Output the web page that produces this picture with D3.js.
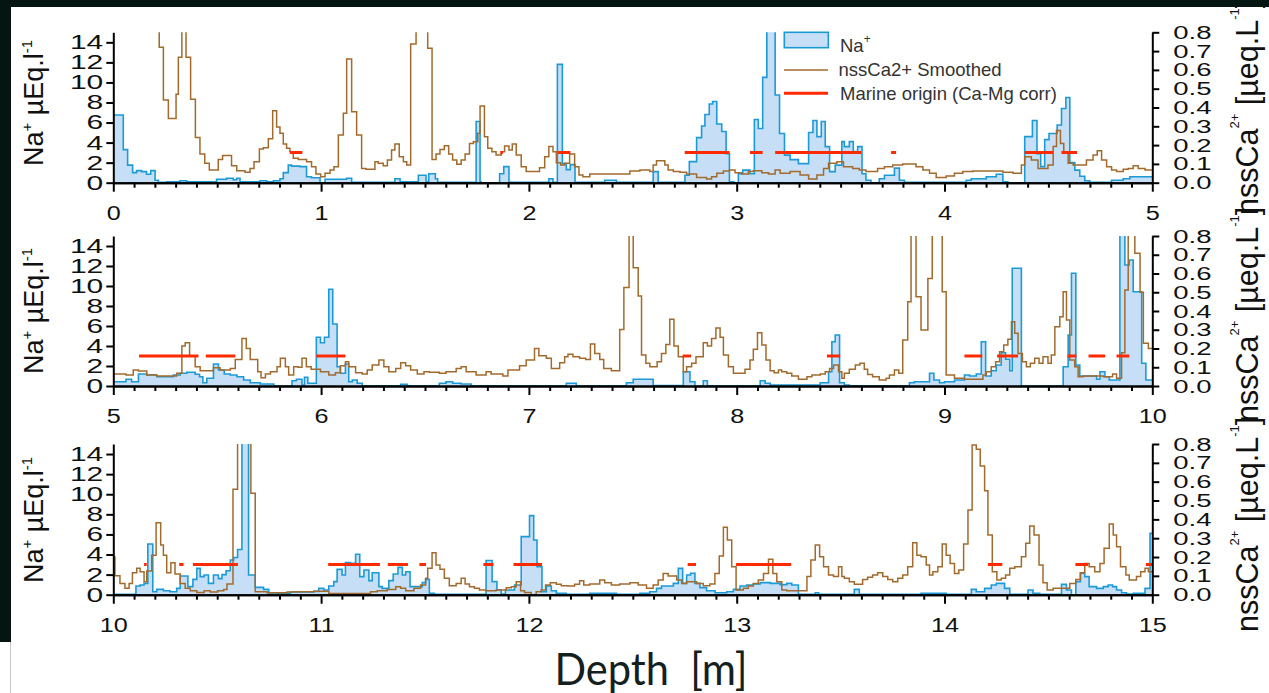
<!DOCTYPE html>
<html>
<head>
<meta charset="utf-8">
<title>Na+ and nssCa2+ along depth</title>
<script src="https://d3js.org/d3.v7.min.js"></script>
<style>
body { margin: 0; background: #fff; }
svg { display: block; }
</style>
</head>
<body>
<script>
// depth ranges of the three strips (m)
const panelStart = [0, 5, 10];
const naTicks = [0, 2, 4, 6, 8, 10, 12, 14];
const caTicks = [0, 0.1, 0.2, 0.3, 0.4, 0.5, 0.6, 0.7, 0.8];
const marineLevel = 0.16;

// Na+ (µEq/l), step starts [depth, value]; 16 = off scale
const naPanel1 = [[0,6.75],[0.048,3.3],[0.069,1.75],[0.093,1.0],[0.112,1.2],[0.136,1.1],[0.160,0.85],[0.180,1.2],[0.201,0.25],[0.217,0.05],[0.257,0.1],[0.321,0.2],[0.353,0.1],[0.497,0.35],[0.545,0.45],[0.577,0.3],[0.594,0.45],[0.610,0.1],[0.706,0.2],[0.738,0.1],[0.770,0.2],[0.802,0.4],[0.818,1.0],[0.842,1.75],[0.858,1.65],[0.898,1.6],[0.930,0.6],[0.954,0.5],[0.995,0.0],[1.019,0.35],[1.123,0.45],[1.147,0.05],[1.355,0.4],[1.380,0.1],[1.468,0.75],[1.505,0.1],[1.518,0.9],[1.550,0.4],[1.561,0.05],[1.746,6.1],[1.765,0.1],[1.770,0.0],[1.859,0.9],[1.879,1.6],[1.904,0.05],[2.096,0.4],[2.116,0.05],[2.137,11.8],[2.161,1.9],[2.180,1.3],[2.199,1.8],[2.222,0.05],[2.365,0.25],[2.421,0.05],[2.598,1.1],[2.622,0.05],[2.751,0.75],[2.772,2.1],[2.807,4.5],[2.831,5.65],[2.847,6.8],[2.868,7.85],[2.884,8.1],[2.904,5.85],[2.928,5.1],[2.949,2.9],[2.965,0.1],[2.987,0.0],[3.008,0.9],[3.029,1.25],[3.064,0.9],[3.085,6.3],[3.104,5.4],[3.125,10.5],[3.145,16],[3.185,8.75],[3.206,4.9],[3.230,2.75],[3.257,2.3],[3.297,1.9],[3.346,5.0],[3.367,6.2],[3.386,4.6],[3.407,6.1],[3.426,3.6],[3.447,1.1],[3.474,1.75],[3.506,4.1],[3.518,3.6],[3.542,4.1],[3.561,3.1],[3.582,3.6],[3.603,0.9],[3.622,0.25],[3.646,0.0],[3.686,0.4],[3.711,0.75],[3.759,1.45],[3.783,0.25],[3.807,0.05],[4.105,0.25],[4.129,0.4],[4.201,0.6],[4.249,0.85],[4.281,0.1],[4.305,0.0],[4.386,4.6],[4.423,6.2],[4.445,2.9],[4.463,1.6],[4.482,4.3],[4.503,4.9],[4.542,5.75],[4.563,7.4],[4.584,8.5],[4.603,2.0],[4.627,1.25],[4.651,0.65],[4.675,0.2],[4.699,0.05],[4.804,0.25],[4.860,0.4],[4.892,0.6]];
const naPanel2 = [[5.000,0.43],[5.061,0.67],[5.088,0.43],[5.121,1.2],[5.161,1.1],[5.209,0.93],[5.289,1.1],[5.322,1.27],[5.354,1.37],[5.394,1.17],[5.415,0.93],[5.431,0.33],[5.450,0.77],[5.482,2.2],[5.506,1.6],[5.534,1.2],[5.563,1.1],[5.595,0.93],[5.627,0.6],[5.659,0.33],[5.707,0.2],[5.772,0.0],[5.860,0.53],[5.881,0.67],[5.908,0.1],[5.920,0.87],[5.936,0.27],[5.977,4.87],[5.997,4.33],[6.016,4.87],[6.037,9.67],[6.056,6.2],[6.077,1.93],[6.093,1.27],[6.117,2.2],[6.133,0.43],[6.150,0.6],[6.174,0.27],[6.198,0.03],[6.383,0.17],[6.415,0.03],[6.569,0.27],[6.601,0.43],[6.633,0.27],[6.674,0.2],[6.722,0.03],[7.180,0.27],[7.228,0.03],[7.469,0.33],[7.502,0.67],[7.598,0.05],[7.743,1.43],[7.775,0.43],[7.799,0.0],[7.839,0.53],[7.859,0.03],[8.113,0.53],[8.137,0.27],[8.161,0.1],[8.402,0.33],[8.442,1.43],[8.458,4.43],[8.474,5.1],[8.495,0.33],[8.518,0.1],[8.542,0.03],[8.831,0.33],[8.855,0.43],[8.928,1.27],[8.949,0.6],[8.976,0.33],[9.000,0.43],[9.048,0.6],[9.096,1.1],[9.121,1.0],[9.153,1.2],[9.177,4.43],[9.198,1.0],[9.225,1.53],[9.249,2.1],[9.273,3.33],[9.294,2.67],[9.314,1.53],[9.326,11.77],[9.370,0.0],[9.571,1.93],[9.595,5.1],[9.611,11.27],[9.632,2.1],[9.651,1.0],[9.732,0.67],[9.748,1.43],[9.772,0.93],[9.793,0.6],[9.844,16],[9.868,12.1],[9.889,12.6],[9.908,9.43],[9.949,2.27],[9.969,0.6]];
const naPanel3 = [[10.000,0.05],[10.109,0.86],[10.129,0.96],[10.148,1.13],[10.166,5.05],[10.190,0.3],[10.209,0.53],[10.241,0.4],[10.273,0.3],[10.305,0.63],[10.322,1.86],[10.359,0.8],[10.383,1.53],[10.402,2.62],[10.418,1.8],[10.437,1.96],[10.458,1.13],[10.482,1.96],[10.506,1.6],[10.523,2.0],[10.543,2.39],[10.563,3.46],[10.579,3.7],[10.598,4.5],[10.619,16],[10.651,1.96],[10.683,0.73],[10.723,0.53],[10.748,0.07],[10.788,0.13],[10.852,0.27],[10.965,0.33],[10.989,0.63],[11.013,0.47],[11.037,0.86],[11.061,1.3],[11.077,2.52],[11.101,1.96],[11.117,3.19],[11.141,3.12],[11.166,4.02],[11.186,1.8],[11.206,2.46],[11.230,1.4],[11.246,2.19],[11.278,0.8],[11.294,0.63],[11.326,1.4],[11.347,2.06],[11.370,2.72],[11.391,1.96],[11.407,2.29],[11.428,0.8],[11.487,1.2],[11.503,1.53],[11.521,0.13],[11.545,0.03],[11.794,3.4],[11.823,1.3],[11.846,0.47],[11.867,0.07],[11.887,0.47],[11.931,0.96],[11.963,5.78],[12.003,7.87],[12.023,5.45],[12.039,2.79],[12.063,0.3],[12.084,0.86],[12.108,0.4],[12.132,0.13],[12.180,0.03],[12.293,0.13],[12.421,0.05],[12.534,0.13],[12.582,0.3],[12.614,0.63],[12.638,0.86],[12.695,1.13],[12.719,2.62],[12.740,1.13],[12.759,1.96],[12.778,2.13],[12.799,1.13],[12.823,0.7],[12.855,0.4],[12.896,0.2],[12.952,0.3],[12.984,0.53],[13.016,0.86],[13.048,0.96],[13.080,1.06],[13.113,1.2],[13.161,1.13],[13.209,1.0],[13.241,1.13],[13.265,0.96],[13.297,0.05],[13.378,0.2],[13.394,0.03],[13.566,0.53],[13.590,0.03],[13.887,0.13],[14.008,0.03],[14.129,0.53],[14.153,0.3],[14.193,0.63],[14.225,0.96],[14.249,1.13],[14.289,0.63],[14.314,0.03],[14.402,0.47],[14.426,0.13],[14.458,0.03],[14.563,1.03],[14.587,0.47],[14.611,0.0],[14.632,1.3],[14.654,2.13],[14.675,1.8],[14.696,0.8],[14.732,0.63],[14.764,0.8],[14.788,0.96],[14.809,0.8],[14.828,0.47],[14.852,0.2],[14.876,0.07],[14.908,0.13],[14.965,0.63],[14.989,6.1]];

// nssCa2+ smoothed (µeq/L), step starts [depth, value]; 0.9 = off scale
const caPanel1 = [[0.205,0.9],[0.221,0.72],[0.241,0.44],[0.265,0.342],[0.302,0.47],[0.313,0.667],[0.330,0.9],[0.350,0.667],[0.372,0.444],[0.395,0.24],[0.417,0.153],[0.440,0.103],[0.462,0.067],[0.505,0.124],[0.526,0.145],[0.569,0.09],[0.594,0.064],[0.634,0.055],[0.658,0.076],[0.677,0.112],[0.703,0.179],[0.722,0.186],[0.746,0.234],[0.767,0.383],[0.786,0.296],[0.802,0.263],[0.818,0.206],[0.834,0.183],[0.850,0.165],[0.866,0.13],[0.890,0.124],[0.930,0.112],[0.954,0.085],[0.975,0.046],[0.998,0.032],[1.019,0.05],[1.043,0.067],[1.062,0.085],[1.083,0.254],[1.107,0.369],[1.123,0.658],[1.147,0.378],[1.171,0.254],[1.195,0.076],[1.216,0.071],[1.259,0.112],[1.275,0.103],[1.299,0.09],[1.319,0.121],[1.339,0.174],[1.355,0.206],[1.376,0.138],[1.396,0.112],[1.412,0.094],[1.431,0.738],[1.457,0.9],[1.513,0.715],[1.534,0.124],[1.553,0.153],[1.572,0.177],[1.593,0.197],[1.614,0.153],[1.633,0.121],[1.653,0.098],[1.674,0.121],[1.693,0.153],[1.714,0.209],[1.733,0.218],[1.754,0.263],[1.765,0.408],[1.786,0.245],[1.802,0.183],[1.822,0.165],[1.842,0.147],[1.867,0.165],[1.883,0.195],[1.904,0.174],[1.920,0.206],[1.939,0.147],[1.963,0.085],[1.987,0.059],[2.051,0.08],[2.076,0.138],[2.096,0.192],[2.116,0.165],[2.132,0.106],[2.153,0.094],[2.172,0.103],[2.196,0.153],[2.220,0.085],[2.241,0.041],[2.260,0.032],[2.293,0.046],[2.486,0.062],[2.534,0.067],[2.582,0.059],[2.598,0.094],[2.614,0.117],[2.654,0.094],[2.670,0.067],[2.695,0.059],[2.727,0.055],[2.759,0.046],[2.807,0.028],[2.855,0.02],[2.879,0.032],[2.904,0.05],[2.936,0.062],[2.965,0.067],[2.992,0.053],[3.024,0.046],[3.056,0.059],[3.080,0.064],[3.121,0.053],[3.153,0.046],[3.185,0.067],[3.209,0.05],[3.257,0.059],[3.305,0.041],[3.346,0.02],[3.386,0.041],[3.418,0.076],[3.442,0.103],[3.482,0.112],[3.514,0.085],[3.558,0.076],[3.590,0.067],[3.622,0.059],[3.678,0.076],[3.711,0.085],[3.751,0.094],[3.799,0.099],[3.863,0.085],[3.896,0.067],[3.928,0.05],[3.960,0.027],[4.008,0.035],[4.048,0.05],[4.088,0.059],[4.137,0.062],[4.281,0.055],[4.330,0.05],[4.370,0.094],[4.386,0.138],[4.418,0.121],[4.450,0.076],[4.498,0.094],[4.523,0.192],[4.539,0.277],[4.558,0.209],[4.574,0.156],[4.595,0.103],[4.619,0.094],[4.683,0.121],[4.715,0.147],[4.735,0.17],[4.756,0.121],[4.780,0.085],[4.804,0.067],[4.828,0.059],[4.860,0.071],[4.884,0.076],[4.908,0.09],[4.932,0.076],[4.965,0.067]];
const caPanel2 = [[5.000,0.064],[5.061,0.059],[5.096,0.085],[5.121,0.08],[5.161,0.059],[5.209,0.053],[5.305,0.068],[5.330,0.213],[5.346,0.231],[5.367,0.16],[5.394,0.103],[5.418,0.082],[5.482,0.098],[5.514,0.085],[5.563,0.094],[5.587,0.142],[5.619,0.254],[5.640,0.2],[5.659,0.142],[5.695,0.076],[5.711,0.044],[5.732,0.064],[5.756,0.076],[5.788,0.103],[5.804,0.148],[5.828,0.103],[5.844,0.059],[5.868,0.103],[5.889,0.1],[5.908,0.148],[5.929,0.103],[5.952,0.089],[5.997,0.076],[6.037,0.059],[6.069,0.071],[6.093,0.108],[6.117,0.13],[6.133,0.103],[6.166,0.071],[6.198,0.064],[6.222,0.085],[6.246,0.112],[6.278,0.139],[6.302,0.103],[6.326,0.076],[6.359,0.094],[6.383,0.124],[6.407,0.108],[6.431,0.085],[6.463,0.064],[6.495,0.076],[6.521,0.073],[6.569,0.068],[6.601,0.076],[6.650,0.094],[6.674,0.103],[6.698,0.076],[6.746,0.059],[6.794,0.076],[6.818,0.064],[6.875,0.053],[6.899,0.085],[6.955,0.108],[6.987,0.139],[7.027,0.2],[7.048,0.162],[7.084,0.148],[7.108,0.094],[7.148,0.124],[7.172,0.156],[7.188,0.169],[7.212,0.156],[7.244,0.148],[7.273,0.142],[7.296,0.224],[7.317,0.174],[7.341,0.142],[7.360,0.094],[7.397,0.082],[7.437,0.302],[7.457,0.526],[7.482,0.9],[7.502,0.631],[7.526,0.48],[7.542,0.165],[7.563,0.121],[7.582,0.103],[7.617,0.13],[7.638,0.174],[7.659,0.222],[7.678,0.356],[7.698,0.213],[7.719,0.156],[7.743,0.076],[7.759,0.103],[7.783,0.121],[7.804,0.156],[7.839,0.231],[7.859,0.213],[7.879,0.254],[7.900,0.309],[7.920,0.26],[7.936,0.165],[7.960,0.103],[7.984,0.068],[8.040,0.089],[8.064,0.139],[8.080,0.196],[8.100,0.284],[8.121,0.219],[8.141,0.139],[8.161,0.082],[8.180,0.071],[8.201,0.085],[8.217,0.076],[8.241,0.068],[8.265,0.053],[8.297,0.036],[8.338,0.05],[8.362,0.059],[8.402,0.064],[8.426,0.076],[8.447,0.094],[8.466,0.112],[8.490,0.076],[8.506,0.041],[8.518,0.068],[8.542,0.089],[8.571,0.112],[8.593,0.121],[8.614,0.089],[8.630,0.062],[8.654,0.05],[8.686,0.032],[8.719,0.041],[8.735,0.059],[8.759,0.085],[8.780,0.068],[8.799,0.245],[8.823,0.45],[8.839,0.9],[8.863,0.476],[8.887,0.299],[8.920,0.574],[8.941,0.9],[8.989,0.503],[9.008,0.059],[9.048,0.041],[9.096,0.036],[9.185,0.059],[9.201,0.076],[9.225,0.103],[9.246,0.13],[9.265,0.183],[9.285,0.219],[9.305,0.249],[9.322,0.343],[9.338,0.281],[9.354,0.174],[9.375,0.13],[9.394,0.103],[9.413,0.121],[9.434,0.148],[9.455,0.121],[9.474,0.156],[9.498,0.121],[9.514,0.165],[9.531,0.316],[9.555,0.37],[9.571,0.503],[9.587,0.352],[9.603,0.139],[9.627,0.103],[9.643,0.05],[9.667,0.053],[9.764,0.05],[9.809,0.064],[9.828,0.041],[9.852,0.178],[9.868,0.512],[9.884,0.9],[9.916,0.708],[9.941,0.5],[9.957,0.228],[9.981,0.2]];
const caPanel3 = [[10.000,0.2],[10.008,0.1],[10.032,0.06],[10.056,0.034],[10.076,0.06],[10.092,0.117],[10.113,0.14],[10.129,0.122],[10.148,0.069],[10.161,0.126],[10.185,0.21],[10.206,0.382],[10.228,0.264],[10.241,0.21],[10.257,0.117],[10.277,0.17],[10.297,0.11],[10.322,0.06],[10.346,0.034],[10.370,0.021],[10.402,0.012],[10.437,0.021],[10.466,0.014],[10.502,0.021],[10.531,0.028],[10.547,0.057],[10.576,0.56],[10.598,0.9],[10.662,0.538],[10.683,0.016],[10.740,0.011],[10.836,0.014],[10.868,0.016],[10.965,0.018],[11.037,0.007],[11.238,0.016],[11.270,0.021],[11.318,0.028],[11.359,0.042],[11.383,0.034],[11.407,0.021],[11.447,0.034],[11.479,0.051],[11.503,0.087],[11.513,0.14],[11.534,0.223],[11.553,0.158],[11.572,0.135],[11.593,0.087],[11.617,0.048],[11.650,0.06],[11.674,0.087],[11.693,0.057],[11.714,0.042],[11.738,0.034],[11.762,0.025],[11.794,0.021],[11.842,0.025],[11.891,0.037],[11.915,0.042],[11.939,0.069],[11.960,0.021],[11.979,0.012],[12.011,0.0],[12.035,0.016],[12.059,0.025],[12.080,0.051],[12.103,0.064],[12.132,0.055],[12.156,0.048],[12.188,0.046],[12.220,0.055],[12.244,0.074],[12.264,0.051],[12.293,0.057],[12.341,0.078],[12.365,0.064],[12.397,0.051],[12.437,0.057],[12.486,0.064],[12.526,0.051],[12.566,0.034],[12.598,0.051],[12.622,0.078],[12.646,0.113],[12.670,0.099],[12.711,0.078],[12.735,0.06],[12.759,0.069],[12.807,0.06],[12.839,0.048],[12.871,0.057],[12.895,0.113],[12.916,0.205],[12.936,0.358],[12.955,0.29],[12.976,0.149],[12.997,0.025],[13.032,0.034],[13.056,0.046],[13.080,0.06],[13.104,0.078],[13.129,0.113],[13.153,0.188],[13.174,0.113],[13.193,0.069],[13.217,0.025],[13.241,0.021],[13.338,0.096],[13.357,0.184],[13.378,0.264],[13.399,0.202],[13.418,0.149],[13.442,0.104],[13.466,0.096],[13.490,0.149],[13.506,0.096],[13.518,0.087],[13.542,0.069],[13.566,0.055],[13.606,0.081],[13.630,0.092],[13.654,0.104],[13.678,0.117],[13.703,0.096],[13.727,0.081],[13.751,0.069],[13.775,0.087],[13.799,0.104],[13.823,0.149],[13.847,0.276],[13.867,0.21],[13.887,0.202],[13.912,0.158],[13.928,0.104],[13.944,0.122],[13.968,0.149],[13.989,0.269],[14.008,0.21],[14.027,0.166],[14.048,0.113],[14.069,0.131],[14.092,0.269],[14.113,0.45],[14.133,0.795],[14.153,0.772],[14.172,0.683],[14.193,0.552],[14.209,0.317],[14.230,0.122],[14.252,0.078],[14.273,0.087],[14.294,0.104],[14.314,0.14],[14.338,0.149],[14.370,0.202],[14.391,0.273],[14.410,0.365],[14.431,0.317],[14.455,0.158],[14.474,0.064],[14.494,0.025],[14.523,0.034],[14.603,0.06],[14.632,0.081],[14.654,0.117],[14.675,0.166],[14.696,0.149],[14.723,0.122],[14.748,0.166],[14.768,0.246],[14.793,0.375],[14.812,0.317],[14.828,0.255],[14.847,0.149],[14.873,0.104],[14.889,0.078],[14.924,0.096],[14.944,0.122],[14.965,0.14],[14.981,0.122]];

// marine origin (Ca-Mg corr) intervals [from, to]
const marinePanel1 = [[0.85,0.91],[1.863,1.875],[2.14,2.20],[2.75,2.965],[3.064,3.125],[3.185,3.60],[3.743,3.767],[4.386,4.522],[4.563,4.638]];
const marinePanel2 = [[5.124,5.41],[5.445,5.587],[5.977,6.117],[7.74,7.78],[8.434,8.498],[9.096,9.182],[9.253,9.354],[9.592,9.635],[9.693,9.773],[9.828,9.889]];
const marinePanel3 = [[10.148,10.161],[10.317,10.338],[10.383,10.60],[11.034,11.283],[11.321,11.418],[11.473,11.505],[11.781,11.83],[11.926,12.063],[12.764,12.804],[12.997,13.262],[14.209,14.278],[14.63,14.691],[14.969,15.0]];

const naData = [naPanel1, naPanel2, naPanel3];
const caData = [caPanel1, caPanel2, caPanel3];
const marineData = [marinePanel1, marinePanel2, marinePanel3];

var W = 1269, H = 693;
var naFill = "#c6dff7", naStroke = "#1c9ad6", caStroke = "#a26a2c", marineColor = "#ff2a00";
var plotLeft = 113.3, plotRight = 1152.3;
var panels = [
  {top: 32.3, bottom: 182.7, titleY: 103, rightY: 215},
  {top: 236, bottom: 386, titleY: 311, rightY: 422},
  {top: 444, bottom: 594.7, titleY: 520, rightY: 632}
];
var font = "'Liberation Sans', Arial, sans-serif";

var svg = d3.select("body").append("svg").attr("width", W).attr("height", H);
svg.append("rect").attr("width", W).attr("height", H).attr("fill", "#fff");

// add an end point so the last step has a width
function closeSteps(steps, end) {
  var s = steps.slice();
  s.push([end, s[s.length - 1][1]]);
  return s;
}

function styleAxis(g) {
  g.attr("font-family", font).attr("fill", null);
  g.select(".domain").attr("stroke", "#000").attr("stroke-width", 2);
  g.selectAll(".tick line").attr("stroke", "#000").attr("stroke-width", 2);
  g.selectAll(".tick text").attr("fill", "#111");
}

panels.forEach(function(p, i) {
  var start = panelStart[i], end = start + 5;
  var x = d3.scaleLinear().domain([start, end]).range([plotLeft, plotRight]);
  var yNa = d3.scaleLinear().domain([0, 15]).range([p.bottom, p.top]);
  var yCa = d3.scaleLinear().domain([0, 0.8]).range([p.bottom, p.top]);
  var na = closeSteps(naData[i], end);
  var ca = closeSteps(caData[i], end);

  svg.append("clipPath").attr("id", "clip" + i)
    .append("rect")
    .attr("x", plotLeft).attr("y", p.top)
    .attr("width", plotRight - plotLeft).attr("height", p.bottom - p.top + 1);

  var plot = svg.append("g").attr("clip-path", "url(#clip" + i + ")");

  plot.append("path").datum(na)
    .attr("fill", naFill)
    .attr("d", d3.area().curve(d3.curveStepAfter)
      .x(function(d) { return x(d[0]); })
      .y0(p.bottom)
      .y1(function(d) { return yNa(d[1]); }));

  plot.append("path").datum(na)
    .attr("fill", "none").attr("stroke", naStroke).attr("stroke-width", 1.6)
    .attr("d", d3.line().curve(d3.curveStepAfter)
      .x(function(d) { return x(d[0]); })
      .y(function(d) { return yNa(d[1]); }));

  plot.append("path").datum(ca)
    .attr("fill", "none").attr("stroke", caStroke).attr("stroke-width", 1.5)
    .attr("d", d3.line().curve(d3.curveStepAfter)
      .x(function(d) { return x(d[0]); })
      .y(function(d) { return yCa(d[1]); }));

  plot.selectAll("line.marine").data(marineData[i]).join("line")
    .attr("class", "marine")
    .attr("x1", function(d) { return x(d[0]); })
    .attr("x2", function(d) { return x(d[1]); })
    .attr("y1", yCa(marineLevel)).attr("y2", yCa(marineLevel))
    .attr("stroke", marineColor).attr("stroke-width", 3);

  // bottom axis: minor ticks every 0.1 m then majors every 1 m
  var minor = d3.range(1, 50).filter(function(k) { return k % 10 != 0; })
    .map(function(k) { return start + k / 10; });
  svg.append("g").attr("transform", "translate(0," + p.bottom + ")")
    .call(d3.axisBottom(x).tickValues(minor).tickSize(5).tickSizeOuter(0).tickFormat(""))
    .call(styleAxis);

  var xg = svg.append("g").attr("transform", "translate(0," + p.bottom + ")")
    .call(d3.axisBottom(x).tickValues(d3.range(start, end + 0.5, 1)).tickSize(9).tickSizeOuter(0).tickFormat(d3.format("d")))
    .call(styleAxis);
  xg.selectAll(".tick text").attr("font-size", 21).attr("y", 37).attr("dy", 0)
    .attr("transform", "scale(1.2,1)");

  var lg = svg.append("g").attr("transform", "translate(" + plotLeft + ",0)")
    .call(d3.axisLeft(yNa).tickValues(naTicks).tickSize(7).tickSizeOuter(0))
    .call(styleAxis);
  lg.selectAll(".tick text").attr("font-size", 20).attr("x", -10 / 1.5)
    .attr("transform", "scale(1.5,1)");

  var rg = svg.append("g").attr("transform", "translate(" + plotRight + ",0)")
    .call(d3.axisRight(yCa).tickValues(caTicks).tickSize(7).tickSizeOuter(0).tickFormat(d3.format(".1f")))
    .call(styleAxis);
  rg.selectAll(".tick text").attr("font-size", 19).attr("x", 21 / 1.45)
    .attr("transform", "scale(1.45,1)");

  // left title
  var lt = svg.append("text")
    .attr("transform", "translate(43," + p.titleY + ") rotate(-90)")
    .attr("text-anchor", "middle").attr("font-family", font).attr("font-size", 27).attr("fill", "#111");
  lt.append("tspan").text("Na");
  lt.append("tspan").attr("font-size", 15).attr("dy", -11).text("+");
  lt.append("tspan").attr("dy", 11).text(" µEq.l");
  lt.append("tspan").attr("font-size", 15).attr("dy", -11).text("-1");

  // right title
  var rt = svg.append("text")
    .attr("transform", "translate(1258," + p.rightY + ") rotate(-90)")
    .attr("font-family", font).attr("font-size", 30.5).attr("fill", "#111");
  rt.append("tspan").text("nssCa");
  rt.append("tspan").attr("font-size", 13).attr("dy", -19).text("2+");
  rt.append("tspan").attr("dy", 19).text(" [µeq.L");
  rt.append("tspan").attr("font-size", 13).attr("dy", -19).text("-1");
  rt.append("tspan").attr("dy", 19).text("]");
});

// legend in the first strip
var leg = svg.append("g").attr("font-family", font).attr("font-size", 18.5).attr("fill", "#333");
leg.append("rect").attr("x", 784.3).attr("y", 32.3).attr("width", 44).attr("height", 15.4)
  .attr("fill", naFill).attr("stroke", naStroke).attr("stroke-width", 1.6);
var t1 = leg.append("text").attr("x", 840).attr("y", 51.5);
t1.append("tspan").text("Na");
t1.append("tspan").attr("font-size", 12).attr("dy", -9).text("+");
leg.append("line").attr("x1", 784).attr("x2", 828).attr("y1", 70).attr("y2", 70)
  .attr("stroke", caStroke).attr("stroke-width", 1.5);
leg.append("text").attr("x", 838.5).attr("y", 76).text("nssCa2+ Smoothed");
leg.append("line").attr("x1", 784).attr("x2", 828).attr("y1", 93.3).attr("y2", 93.3)
  .attr("stroke", marineColor).attr("stroke-width", 3);
leg.append("text").attr("x", 840).attr("y", 100).text("Marine origin (Ca-Mg corr)");

// common depth title
svg.append("text").attr("x", 651).attr("y", 685).attr("text-anchor", "middle")
  .attr("font-family", "Lato, 'Open Sans', sans-serif").attr("font-size", 44).attr("fill", "#14201e")
  .attr("textLength", 193).attr("lengthAdjust", "spacingAndGlyphs")
  .text("Depth\u00a0\u00a0[m]");

// dark frame round the picture
svg.append("rect").attr("x", 0).attr("y", 0).attr("width", W).attr("height", 7).attr("fill", "#041512");
svg.append("rect").attr("x", 0).attr("y", 0).attr("width", 11).attr("height", 642).attr("fill", "#041512");
svg.append("line").attr("x1", 10.5).attr("x2", 10.5).attr("y1", 642).attr("y2", H)
  .attr("stroke", "#c8c8c8").attr("stroke-width", 1);
</script>
</body>
</html>
